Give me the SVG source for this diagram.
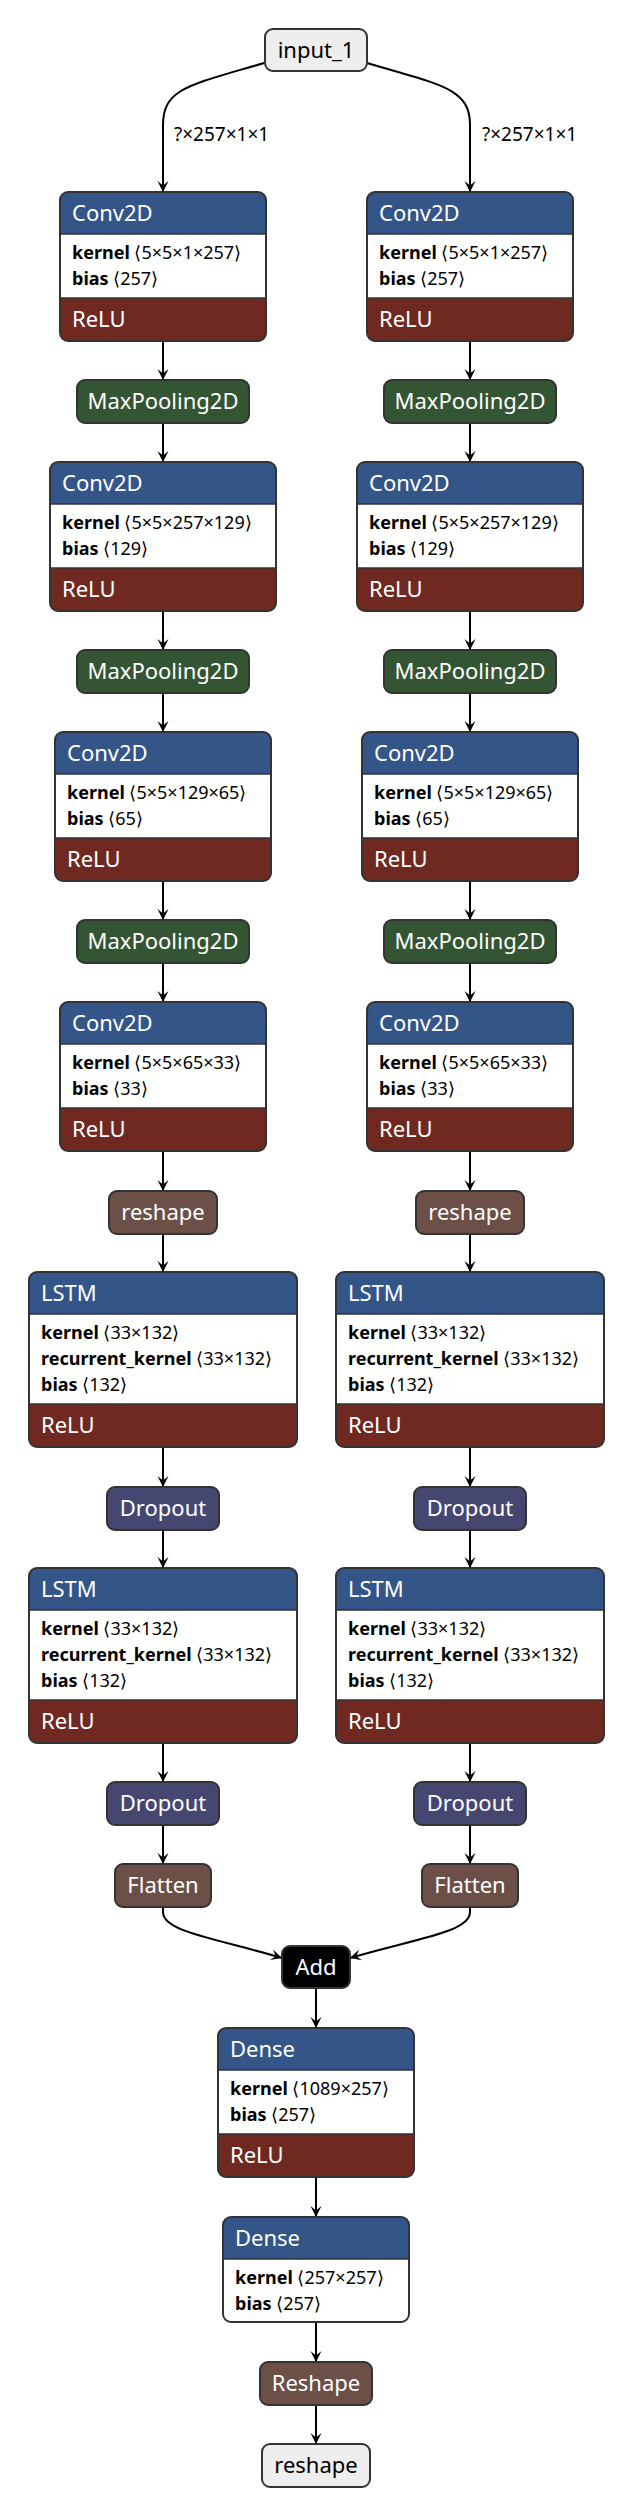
<svg xmlns="http://www.w3.org/2000/svg" width="632" height="2516" viewBox="0 0 632 2516">
<style>
text { font-family: "Noto Sans", "Noto Sans CJK SC", sans-serif; }
.hdr { font-size: 22px; fill: #fff; }
.hc { font-size: 22px; fill: #fff; text-anchor: middle; }
.dk { fill: #000; }
.attr { font-size: 18px; fill: #000; }
.n { font-weight: bold; }
.lay { fill: #335588; }
.act { fill: #702921; }
.pool { fill: #335533; }
.drop { fill: #454770; }
.shape { fill: #6c4f47; }
.io { fill: #eeeeee; }
.blk { fill: #000; }
.wht { fill: #fff; }
.ol { fill: none; stroke: #333; stroke-width: 2; }
.sb { stroke: #333; stroke-width: 2; }
.sep { stroke: #333; stroke-width: 1.5; }
.edge { fill: none; stroke: #000; stroke-width: 2; }
.lbl { font-size: 19px; fill: #000; }
</style>
<defs>
<marker id="arrow" viewBox="0 0 12 12" refX="11.5" refY="6" markerWidth="12" markerHeight="12" markerUnits="userSpaceOnUse" orient="auto">
<path d="M0.5,0.5 L11.5,6 L0.5,11.5 L5,6 Z" fill="#000"/>
</marker>
</defs>

<g id="edges">
<path class="edge" marker-end="url(#arrow)" d="M264,63 C190,85 163,88 163,125 L163,192"/>
<path class="edge" marker-end="url(#arrow)" d="M367,63 C441,85 470,88 470,125 L470,192"/>
<text class="lbl" x="174" y="141">?×257×1×1</text>
<text class="lbl" x="482" y="141">?×257×1×1</text>
<path class="edge" marker-end="url(#arrow)" d="M163,341 V380"/>
<path class="edge" marker-end="url(#arrow)" d="M163,423 V462"/>
<path class="edge" marker-end="url(#arrow)" d="M163,611 V650"/>
<path class="edge" marker-end="url(#arrow)" d="M163,693 V732"/>
<path class="edge" marker-end="url(#arrow)" d="M163,881 V920"/>
<path class="edge" marker-end="url(#arrow)" d="M163,963 V1002"/>
<path class="edge" marker-end="url(#arrow)" d="M163,1151 V1191"/>
<path class="edge" marker-end="url(#arrow)" d="M163,1234 V1272"/>
<path class="edge" marker-end="url(#arrow)" d="M163,1447 V1487"/>
<path class="edge" marker-end="url(#arrow)" d="M163,1530 V1568"/>
<path class="edge" marker-end="url(#arrow)" d="M163,1743 V1782"/>
<path class="edge" marker-end="url(#arrow)" d="M163,1825 V1864"/>
<path class="edge" marker-end="url(#arrow)" d="M470,341 V380"/>
<path class="edge" marker-end="url(#arrow)" d="M470,423 V462"/>
<path class="edge" marker-end="url(#arrow)" d="M470,611 V650"/>
<path class="edge" marker-end="url(#arrow)" d="M470,693 V732"/>
<path class="edge" marker-end="url(#arrow)" d="M470,881 V920"/>
<path class="edge" marker-end="url(#arrow)" d="M470,963 V1002"/>
<path class="edge" marker-end="url(#arrow)" d="M470,1151 V1191"/>
<path class="edge" marker-end="url(#arrow)" d="M470,1234 V1272"/>
<path class="edge" marker-end="url(#arrow)" d="M470,1447 V1487"/>
<path class="edge" marker-end="url(#arrow)" d="M470,1530 V1568"/>
<path class="edge" marker-end="url(#arrow)" d="M470,1743 V1782"/>
<path class="edge" marker-end="url(#arrow)" d="M470,1825 V1864"/>
<path class="edge" marker-end="url(#arrow)" d="M163,1907 L163,1912 C163,1932 215,1938 282,1958"/>
<path class="edge" marker-end="url(#arrow)" d="M470,1907 L470,1912 C470,1932 418,1938 350,1958"/>
<path class="edge" marker-end="url(#arrow)" d="M316,1988 V2028"/>
<path class="edge" marker-end="url(#arrow)" d="M316,2177 V2217"/>
<path class="edge" marker-end="url(#arrow)" d="M316,2322 V2362"/>
<path class="edge" marker-end="url(#arrow)" d="M316,2405 V2444"/>
</g>

<g id="input_1" transform="translate(265,29)">
<rect width="102" height="42" rx="8" class="io sb"/>
<text x="51" y="29" class="hc dk">input_1</text>
</g>

<!-- Left column -->
<g id="conv2d_1_l" transform="translate(60,192)">
<rect width="206" height="149" rx="8" class="act"/>
<rect width="206" height="58" rx="8" class="lay"/>
<rect y="42" width="206" height="64" class="wht"/>
<line x1="0" y1="42" x2="206" y2="42" class="sep"/>
<line x1="0" y1="106" x2="206" y2="106" class="sep"/>
<rect width="206" height="149" rx="8" class="ol"/>
<text x="12" y="29" class="hdr">Conv2D</text>
<text x="12" y="67" class="attr"><tspan class="n">kernel</tspan> ⟨5×5×1×257⟩</text>
<text x="12" y="93" class="attr"><tspan class="n">bias</tspan> ⟨257⟩</text>
<text x="12" y="135" class="hdr">ReLU</text>
</g>
<g id="maxpool_1_l" transform="translate(77,380)">
<rect width="172" height="43" rx="8" class="pool sb"/>
<text x="86" y="29" class="hc">MaxPooling2D</text>
</g>
<g id="conv2d_2_l" transform="translate(50,462)">
<rect width="226" height="149" rx="8" class="act"/>
<rect width="226" height="58" rx="8" class="lay"/>
<rect y="42" width="226" height="64" class="wht"/>
<line x1="0" y1="42" x2="226" y2="42" class="sep"/>
<line x1="0" y1="106" x2="226" y2="106" class="sep"/>
<rect width="226" height="149" rx="8" class="ol"/>
<text x="12" y="29" class="hdr">Conv2D</text>
<text x="12" y="67" class="attr"><tspan class="n">kernel</tspan> ⟨5×5×257×129⟩</text>
<text x="12" y="93" class="attr"><tspan class="n">bias</tspan> ⟨129⟩</text>
<text x="12" y="135" class="hdr">ReLU</text>
</g>
<g id="maxpool_2_l" transform="translate(77,650)">
<rect width="172" height="43" rx="8" class="pool sb"/>
<text x="86" y="29" class="hc">MaxPooling2D</text>
</g>
<g id="conv2d_3_l" transform="translate(55,732)">
<rect width="216" height="149" rx="8" class="act"/>
<rect width="216" height="58" rx="8" class="lay"/>
<rect y="42" width="216" height="64" class="wht"/>
<line x1="0" y1="42" x2="216" y2="42" class="sep"/>
<line x1="0" y1="106" x2="216" y2="106" class="sep"/>
<rect width="216" height="149" rx="8" class="ol"/>
<text x="12" y="29" class="hdr">Conv2D</text>
<text x="12" y="67" class="attr"><tspan class="n">kernel</tspan> ⟨5×5×129×65⟩</text>
<text x="12" y="93" class="attr"><tspan class="n">bias</tspan> ⟨65⟩</text>
<text x="12" y="135" class="hdr">ReLU</text>
</g>
<g id="maxpool_3_l" transform="translate(77,920)">
<rect width="172" height="43" rx="8" class="pool sb"/>
<text x="86" y="29" class="hc">MaxPooling2D</text>
</g>
<g id="conv2d_4_l" transform="translate(60,1002)">
<rect width="206" height="149" rx="8" class="act"/>
<rect width="206" height="58" rx="8" class="lay"/>
<rect y="42" width="206" height="64" class="wht"/>
<line x1="0" y1="42" x2="206" y2="42" class="sep"/>
<line x1="0" y1="106" x2="206" y2="106" class="sep"/>
<rect width="206" height="149" rx="8" class="ol"/>
<text x="12" y="29" class="hdr">Conv2D</text>
<text x="12" y="67" class="attr"><tspan class="n">kernel</tspan> ⟨5×5×65×33⟩</text>
<text x="12" y="93" class="attr"><tspan class="n">bias</tspan> ⟨33⟩</text>
<text x="12" y="135" class="hdr">ReLU</text>
</g>
<g id="reshape_l" transform="translate(109,1191)">
<rect width="108" height="43" rx="8" class="shape sb"/>
<text x="54" y="29" class="hc">reshape</text>
</g>
<g id="lstm_1_l" transform="translate(29,1272)">
<rect width="268" height="175" rx="8" class="act"/>
<rect width="268" height="58" rx="8" class="lay"/>
<rect y="42" width="268" height="90" class="wht"/>
<line x1="0" y1="42" x2="268" y2="42" class="sep"/>
<line x1="0" y1="132" x2="268" y2="132" class="sep"/>
<rect width="268" height="175" rx="8" class="ol"/>
<text x="12" y="29" class="hdr">LSTM</text>
<text x="12" y="67" class="attr"><tspan class="n">kernel</tspan> ⟨33×132⟩</text>
<text x="12" y="93" class="attr"><tspan class="n">recurrent_kernel</tspan> ⟨33×132⟩</text>
<text x="12" y="119" class="attr"><tspan class="n">bias</tspan> ⟨132⟩</text>
<text x="12" y="161" class="hdr">ReLU</text>
</g>
<g id="dropout_1_l" transform="translate(107,1487)">
<rect width="112" height="43" rx="8" class="drop sb"/>
<text x="56" y="29" class="hc">Dropout</text>
</g>
<g id="lstm_2_l" transform="translate(29,1568)">
<rect width="268" height="175" rx="8" class="act"/>
<rect width="268" height="58" rx="8" class="lay"/>
<rect y="42" width="268" height="90" class="wht"/>
<line x1="0" y1="42" x2="268" y2="42" class="sep"/>
<line x1="0" y1="132" x2="268" y2="132" class="sep"/>
<rect width="268" height="175" rx="8" class="ol"/>
<text x="12" y="29" class="hdr">LSTM</text>
<text x="12" y="67" class="attr"><tspan class="n">kernel</tspan> ⟨33×132⟩</text>
<text x="12" y="93" class="attr"><tspan class="n">recurrent_kernel</tspan> ⟨33×132⟩</text>
<text x="12" y="119" class="attr"><tspan class="n">bias</tspan> ⟨132⟩</text>
<text x="12" y="161" class="hdr">ReLU</text>
</g>
<g id="dropout_2_l" transform="translate(107,1782)">
<rect width="112" height="43" rx="8" class="drop sb"/>
<text x="56" y="29" class="hc">Dropout</text>
</g>
<g id="flatten_l" transform="translate(115,1864)">
<rect width="96" height="43" rx="8" class="shape sb"/>
<text x="48" y="29" class="hc">Flatten</text>
</g>

<!-- Right column -->
<g id="conv2d_1_r" transform="translate(367,192)">
<rect width="206" height="149" rx="8" class="act"/>
<rect width="206" height="58" rx="8" class="lay"/>
<rect y="42" width="206" height="64" class="wht"/>
<line x1="0" y1="42" x2="206" y2="42" class="sep"/>
<line x1="0" y1="106" x2="206" y2="106" class="sep"/>
<rect width="206" height="149" rx="8" class="ol"/>
<text x="12" y="29" class="hdr">Conv2D</text>
<text x="12" y="67" class="attr"><tspan class="n">kernel</tspan> ⟨5×5×1×257⟩</text>
<text x="12" y="93" class="attr"><tspan class="n">bias</tspan> ⟨257⟩</text>
<text x="12" y="135" class="hdr">ReLU</text>
</g>
<g id="maxpool_1_r" transform="translate(384,380)">
<rect width="172" height="43" rx="8" class="pool sb"/>
<text x="86" y="29" class="hc">MaxPooling2D</text>
</g>
<g id="conv2d_2_r" transform="translate(357,462)">
<rect width="226" height="149" rx="8" class="act"/>
<rect width="226" height="58" rx="8" class="lay"/>
<rect y="42" width="226" height="64" class="wht"/>
<line x1="0" y1="42" x2="226" y2="42" class="sep"/>
<line x1="0" y1="106" x2="226" y2="106" class="sep"/>
<rect width="226" height="149" rx="8" class="ol"/>
<text x="12" y="29" class="hdr">Conv2D</text>
<text x="12" y="67" class="attr"><tspan class="n">kernel</tspan> ⟨5×5×257×129⟩</text>
<text x="12" y="93" class="attr"><tspan class="n">bias</tspan> ⟨129⟩</text>
<text x="12" y="135" class="hdr">ReLU</text>
</g>
<g id="maxpool_2_r" transform="translate(384,650)">
<rect width="172" height="43" rx="8" class="pool sb"/>
<text x="86" y="29" class="hc">MaxPooling2D</text>
</g>
<g id="conv2d_3_r" transform="translate(362,732)">
<rect width="216" height="149" rx="8" class="act"/>
<rect width="216" height="58" rx="8" class="lay"/>
<rect y="42" width="216" height="64" class="wht"/>
<line x1="0" y1="42" x2="216" y2="42" class="sep"/>
<line x1="0" y1="106" x2="216" y2="106" class="sep"/>
<rect width="216" height="149" rx="8" class="ol"/>
<text x="12" y="29" class="hdr">Conv2D</text>
<text x="12" y="67" class="attr"><tspan class="n">kernel</tspan> ⟨5×5×129×65⟩</text>
<text x="12" y="93" class="attr"><tspan class="n">bias</tspan> ⟨65⟩</text>
<text x="12" y="135" class="hdr">ReLU</text>
</g>
<g id="maxpool_3_r" transform="translate(384,920)">
<rect width="172" height="43" rx="8" class="pool sb"/>
<text x="86" y="29" class="hc">MaxPooling2D</text>
</g>
<g id="conv2d_4_r" transform="translate(367,1002)">
<rect width="206" height="149" rx="8" class="act"/>
<rect width="206" height="58" rx="8" class="lay"/>
<rect y="42" width="206" height="64" class="wht"/>
<line x1="0" y1="42" x2="206" y2="42" class="sep"/>
<line x1="0" y1="106" x2="206" y2="106" class="sep"/>
<rect width="206" height="149" rx="8" class="ol"/>
<text x="12" y="29" class="hdr">Conv2D</text>
<text x="12" y="67" class="attr"><tspan class="n">kernel</tspan> ⟨5×5×65×33⟩</text>
<text x="12" y="93" class="attr"><tspan class="n">bias</tspan> ⟨33⟩</text>
<text x="12" y="135" class="hdr">ReLU</text>
</g>
<g id="reshape_r" transform="translate(416,1191)">
<rect width="108" height="43" rx="8" class="shape sb"/>
<text x="54" y="29" class="hc">reshape</text>
</g>
<g id="lstm_1_r" transform="translate(336,1272)">
<rect width="268" height="175" rx="8" class="act"/>
<rect width="268" height="58" rx="8" class="lay"/>
<rect y="42" width="268" height="90" class="wht"/>
<line x1="0" y1="42" x2="268" y2="42" class="sep"/>
<line x1="0" y1="132" x2="268" y2="132" class="sep"/>
<rect width="268" height="175" rx="8" class="ol"/>
<text x="12" y="29" class="hdr">LSTM</text>
<text x="12" y="67" class="attr"><tspan class="n">kernel</tspan> ⟨33×132⟩</text>
<text x="12" y="93" class="attr"><tspan class="n">recurrent_kernel</tspan> ⟨33×132⟩</text>
<text x="12" y="119" class="attr"><tspan class="n">bias</tspan> ⟨132⟩</text>
<text x="12" y="161" class="hdr">ReLU</text>
</g>
<g id="dropout_1_r" transform="translate(414,1487)">
<rect width="112" height="43" rx="8" class="drop sb"/>
<text x="56" y="29" class="hc">Dropout</text>
</g>
<g id="lstm_2_r" transform="translate(336,1568)">
<rect width="268" height="175" rx="8" class="act"/>
<rect width="268" height="58" rx="8" class="lay"/>
<rect y="42" width="268" height="90" class="wht"/>
<line x1="0" y1="42" x2="268" y2="42" class="sep"/>
<line x1="0" y1="132" x2="268" y2="132" class="sep"/>
<rect width="268" height="175" rx="8" class="ol"/>
<text x="12" y="29" class="hdr">LSTM</text>
<text x="12" y="67" class="attr"><tspan class="n">kernel</tspan> ⟨33×132⟩</text>
<text x="12" y="93" class="attr"><tspan class="n">recurrent_kernel</tspan> ⟨33×132⟩</text>
<text x="12" y="119" class="attr"><tspan class="n">bias</tspan> ⟨132⟩</text>
<text x="12" y="161" class="hdr">ReLU</text>
</g>
<g id="dropout_2_r" transform="translate(414,1782)">
<rect width="112" height="43" rx="8" class="drop sb"/>
<text x="56" y="29" class="hc">Dropout</text>
</g>
<g id="flatten_r" transform="translate(422,1864)">
<rect width="96" height="43" rx="8" class="shape sb"/>
<text x="48" y="29" class="hc">Flatten</text>
</g>

<!-- Merged tail -->
<g id="add" transform="translate(282,1946)">
<rect width="68" height="42" rx="8" class="blk sb"/>
<text x="34" y="29" class="hc">Add</text>
</g>
<g id="dense_1" transform="translate(218,2028)">
<rect width="196" height="149" rx="8" class="act"/>
<rect width="196" height="58" rx="8" class="lay"/>
<rect y="42" width="196" height="64" class="wht"/>
<line x1="0" y1="42" x2="196" y2="42" class="sep"/>
<line x1="0" y1="106" x2="196" y2="106" class="sep"/>
<rect width="196" height="149" rx="8" class="ol"/>
<text x="12" y="29" class="hdr">Dense</text>
<text x="12" y="67" class="attr"><tspan class="n">kernel</tspan> ⟨1089×257⟩</text>
<text x="12" y="93" class="attr"><tspan class="n">bias</tspan> ⟨257⟩</text>
<text x="12" y="135" class="hdr">ReLU</text>
</g>
<g id="dense_2" transform="translate(223,2217)">
<rect width="186" height="105" rx="8" class="wht"/>
<rect width="186" height="58" rx="8" class="lay"/>
<rect y="42" width="186" height="20" class="wht"/>
<line x1="0" y1="42" x2="186" y2="42" class="sep"/>
<rect width="186" height="105" rx="8" class="ol"/>
<text x="12" y="29" class="hdr">Dense</text>
<text x="12" y="67" class="attr"><tspan class="n">kernel</tspan> ⟨257×257⟩</text>
<text x="12" y="93" class="attr"><tspan class="n">bias</tspan> ⟨257⟩</text>
</g>
<g id="reshape_layer" transform="translate(260,2362)">
<rect width="112" height="43" rx="8" class="shape sb"/>
<text x="56" y="29" class="hc">Reshape</text>
</g>
<g id="reshape_out" transform="translate(262,2444)">
<rect width="108" height="43" rx="8" class="io sb"/>
<text x="54" y="29" class="hc dk">reshape</text>
</g>
</svg>
